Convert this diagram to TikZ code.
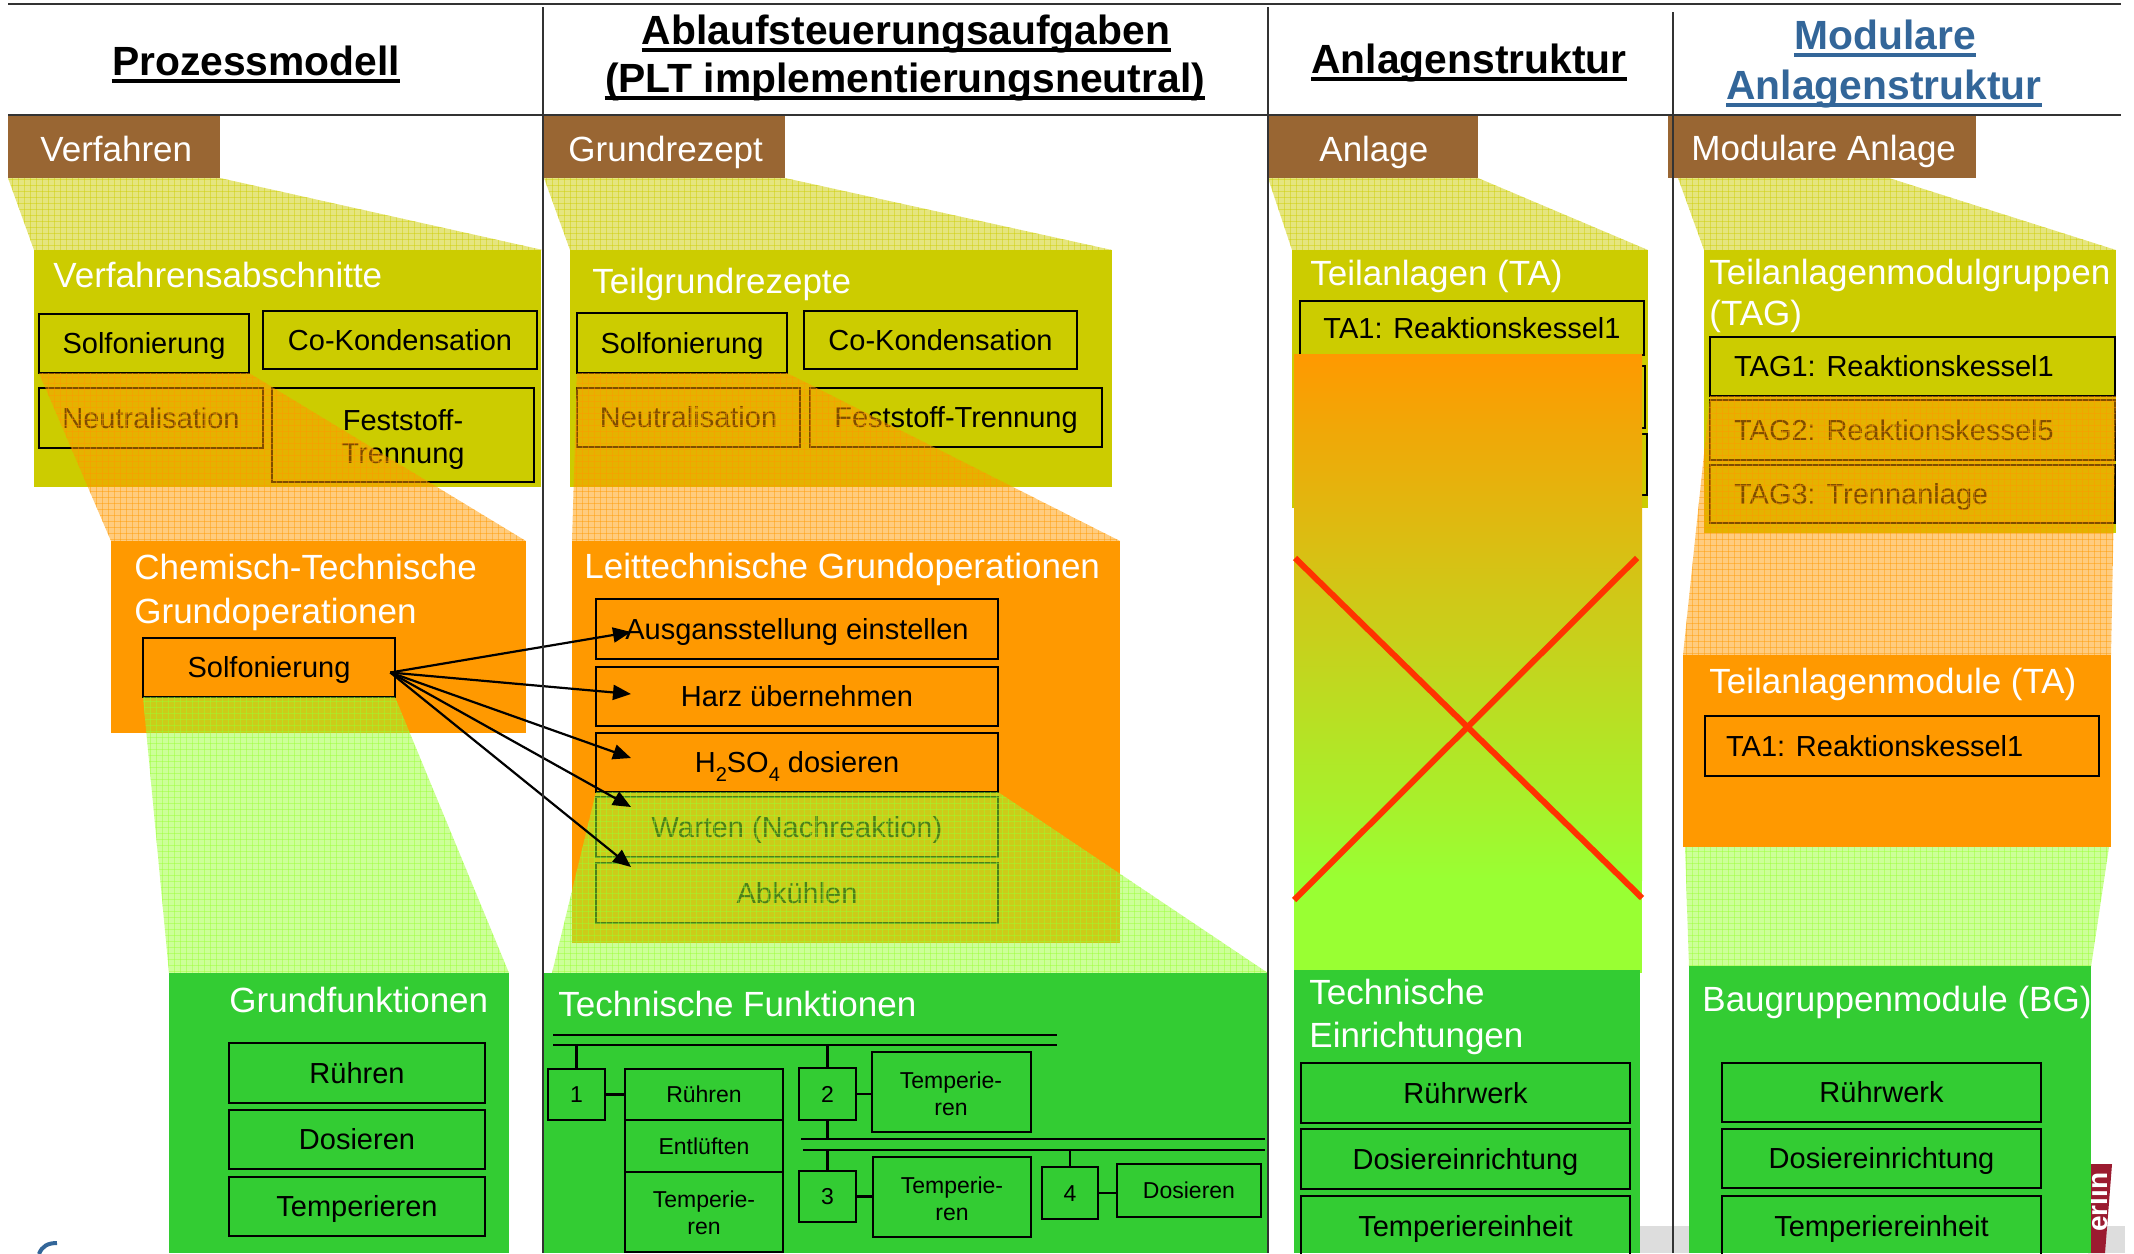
\documentclass[tikz,border=0pt]{standalone}
\usepackage{fontspec}
\setmainfont{Liberation Sans}
\usetikzlibrary{arrows.meta,patterns}
\definecolor{brn}{HTML}{996633}
\definecolor{ylw}{HTML}{CCCC00}
\definecolor{org}{HTML}{FF9900}
\definecolor{grn}{HTML}{33CC33}
\definecolor{lgr}{HTML}{99FF33}
\definecolor{redx}{HTML}{FF3300}
\definecolor{hblue}{HTML}{336699}
\definecolor{tabred}{HTML}{9B1B30}
\definecolor{gband}{HTML}{DDDDDD}
\definecolor{rulec}{HTML}{333333}
\newcommand\hatchfill[2]{%
  \fill[#1,opacity=.5] #2;
  \fill[pattern=grid,pattern color=#1,opacity=.45] #2;}
\begin{document}
\begin{tikzpicture}[x=0.5pt,y=-0.5pt,
  rect/.style n args={4}{minimum width={(#3-#1)*0.5pt},minimum height={(#4-#2)*0.5pt},at={({(#1+#3)/2},{(#2+#4)/2})}},
  hdr/.style={font=\fontsize{20.4}{24}\selectfont\bfseries,inner sep=0pt,anchor=base},
  ttl/.style={font=\fontsize{17.5}{21}\selectfont,text=white,inner sep=0pt,anchor=base west},
  area/.style={inner sep=0pt,outer sep=0pt},
  sub/.style={draw=black,line width=1.3pt,inner sep=0pt,font=\fontsize{14.5}{17}\selectfont,text height=10.4pt,text depth=0pt},
  subt/.style={font=\fontsize{14.5}{17}\selectfont,inner sep=0pt,text height=10.4pt,text depth=0pt},
  sfcbox/.style={draw=black,line width=1.1pt,inner sep=0pt,font=\fontsize{11.5}{14}\selectfont,text height=8.2pt,text depth=0pt},
  sfct/.style={font=\fontsize{11.5}{14}\selectfont,inner sep=0pt,anchor=base},
  syncbar/.style={line width=1.1pt},
  conn/.style={line width=1.1pt},
  arr/.style={line width=1.1pt,-{Triangle[length=9pt,width=7.5pt]}},
  ulin/.style={line width=2.2pt},
  divider/.style={line width=1pt,draw=rulec},
  hrule/.style={line width=1.4pt,draw=rulec},
]
\useasboundingbox (0,0) rectangle (2134,1253);
% background fragments
\fill[gband] (1640,1226) rectangle (2125,1253);
\fill[tabred] (2088,1164) -- (2112,1164) -- (2105,1253) -- (2088,1253) -- cycle;
\node[rotate=90,anchor=base west,font=\fontsize{14}{14}\selectfont\bfseries,text=white,inner sep=0pt] (logo) at (2107,1232) {erlin};
\draw[hblue,line width=2pt] (39,1254) .. controls (42,1246) and (48,1243) .. (57,1243);
% header
\draw[hrule] (8,4) -- (2121,4);
\draw[hrule] (8,115) -- (2121,115);
\node[hdr] (h1) at (256,75) {Prozessmodell};
\node[hdr] (h2a) at (906,44) {Ablaufsteuerungsaufgaben};
\node[hdr] (h2b) at (905,92) {(PLT implementierungsneutral)};
\node[hdr] (h3) at (1469,73) {Anlagenstruktur};
\node[hdr,text=hblue] (h4a) at (1885,49) {Modulare};
\node[hdr,text=hblue] (h4b) at (1884,99) {Anlagenstruktur};
\foreach \h in {h1,h2a,h2b,h3}
  \draw[ulin] ([yshift=-3pt]\h.base west) -- ([yshift=-3pt]\h.base east);
\foreach \h in {h4a,h4b}
  \draw[ulin,hblue] ([yshift=-3pt]\h.base west) -- ([yshift=-3pt]\h.base east);
% ---------------- column 1
\node[area,fill=brn,rect={8}{116}{220}{178}] (verf) {};
\node[ttl] (verft) at (40,161) {Verfahren};
\hatchfill{ylw}{(8,178) -- (220,178) -- (543,250) -- (34,250) -- cycle}
\node[area,fill=ylw,rect={34}{250}{541}{487}] (vab) {};
\node[ttl] (vabt) at (53,287) {Verfahrensabschnitte};
\node[sub,rect={39}{314}{249}{373}] (vab1) {Solfonierung};
\node[sub,rect={263}{311}{537}{369}] (vab2) {Co-Kondensation};
\node[sub,rect={39}{388}{263}{448}] (vab3) {Neutralisation};
\node[sub,rect={272}{388}{534}{482}] (vab4) {};
\node[subt,anchor=base] (vab4a) at (403,430) {Feststoff-};
\node[subt,anchor=base] (vab4b) at (403,463) {Trennung};
\hatchfill{org}{(39,373) -- (249,373) -- (526,541) -- (111,541) -- cycle}
\node[area,fill=org,rect={111}{541}{526}{733}] (cto) {};
\node[ttl] (ctot1) at (134,579) {Chemisch-Technische};
\node[ttl] (ctot2) at (134,623) {Grundoperationen};
\node[sub,rect={143}{638}{395}{697}] (cto1) {Solfonierung};
\hatchfill{lgr}{(143,697) -- (395,697) -- (509,973) -- (169,973) -- cycle}
\node[area,fill=grn,rect={169}{973}{509}{1253}] (gf) {};
\node[ttl] (gft) at (229,1012) {Grundfunktionen};
\node[sub,rect={229}{1043}{485}{1103}] (gf1) {Rühren};
\node[sub,rect={229}{1110}{485}{1169}] (gf2) {Dosieren};
\node[sub,rect={229}{1177}{485}{1236}] (gf3) {Temperieren};
% ---------------- column 2
\node[area,fill=brn,rect={544}{116}{785}{178}] (grz) {};
\node[ttl] (grzt) at (568,161) {Grundrezept};
\hatchfill{ylw}{(544,178) -- (785,178) -- (1112,250) -- (570,250) -- cycle}
\node[area,fill=ylw,rect={570}{250}{1112}{487}] (tgr) {};
\node[ttl] (tgrt) at (592,293) {Teilgrundrezepte};
\node[sub,rect={577}{313}{787}{373}] (tgr1) {Solfonierung};
\node[sub,rect={804}{311}{1077}{369}] (tgr2) {Co-Kondensation};
\node[sub,rect={577}{388}{800}{447}] (tgr3) {Neutralisation};
\node[sub,rect={810}{388}{1102}{447}] (tgr4) {Feststoff-Trennung};
\hatchfill{org}{(577,373) -- (787,373) -- (1120,541) -- (572,541) -- cycle}
\node[area,fill=org,rect={572}{541}{1120}{943}] (lgo) {};
\node[ttl] (lgot) at (584,578) {Leittechnische Grundoperationen};
\node[sub,rect={596}{599}{998}{659}] (lgo1) {Ausgansstellung einstellen};
\node[sub,rect={596}{667}{998}{726}] (lgo2) {Harz übernehmen};
\node[sub,rect={596}{733}{998}{792}] (lgo3) {H\raisebox{-4.5pt}{\fontsize{10}{10}\selectfont 2}SO\raisebox{-4.5pt}{\fontsize{10}{10}\selectfont 4} dosieren};
\node[sub,rect={596}{797}{998}{857}] (lgo4) {Warten (Nachreaktion)};
\node[sub,rect={596}{863}{998}{923}] (lgo5) {Abkühlen};
\hatchfill{lgr}{(596,792) -- (998,792) -- (1268,973) -- (552,973) -- cycle}
\node[area,fill=grn,rect={544}{973}{1268}{1253}] (tf) {};
\node[ttl] (tft) at (558,1016) {Technische Funktionen};
% SFC
\coordinate (b1) at (553,1045);
\coordinate (b1t) at (553,1035);
\coordinate (b2t) at (801,1139);
\coordinate (b2b) at (803,1150);
\draw[syncbar] (b1t) -- (1057,1035);
\draw[syncbar] (b1) -- (1057,1045);
\draw[syncbar] (b2t) -- (1265,1139);
\draw[syncbar] (b2b) -- (1265,1150);
\node[sfcbox,rect={548}{1069}{605}{1120}] (st1) {1};
\node[sfcbox,rect={625}{1069}{783}{1120}] (ac1) {Rühren};
\node[sfcbox,rect={625}{1120}{783}{1172}] (ac1b) {Entlüften};
\node[sfcbox,rect={625}{1172}{783}{1252}] (ac1c) {};
\node[sfct] (ac1c1) at (704,1207) {Temperie-};
\node[sfct] (ac1c2) at (704,1234) {ren};
\node[sfcbox,rect={799}{1068}{856}{1120}] (st2) {2};
\node[sfcbox,rect={872}{1052}{1031}{1132}] (ac2) {};
\node[sfct] (ac2a) at (951,1088) {Temperie-};
\node[sfct] (ac2b) at (951,1115) {ren};
\node[sfcbox,rect={799}{1171}{856}{1222}] (st3) {3};
\node[sfcbox,rect={873}{1157}{1031}{1237}] (ac3) {};
\node[sfct] (ac3a) at (952,1193) {Temperie-};
\node[sfct] (ac3b) at (952,1220) {ren};
\node[sfcbox,rect={1042}{1167}{1098}{1219}] (st4) {4};
\node[sfcbox,rect={1117}{1164}{1261}{1217}] (ac4) {Dosieren};
\draw[conn] (st1.north) -- (st1.north |- b1);
\draw[conn] (st2.north) -- (st2.north |- b1);
\draw[conn] (st2.south) -- (st2.south |- b2t);
\draw[conn] (st3.north) -- (st3.north |- b2b);
\draw[conn] (st4.north) -- (st4.north |- b2b);
\draw[conn] (st1.east) -- (st1.east -| ac1.west);
\draw[conn] (st2.east) -- (st2.east -| ac2.west);
\draw[conn] (st3.east) -- (st3.east -| ac3.west);
\draw[conn] (st4.east) -- (st4.east -| ac4.west);
% ---------------- column 3
\node[area,fill=brn,rect={1268}{116}{1478}{178}] (anl) {};
\node[ttl] (anlt) at (1319,161) {Anlage};
\hatchfill{ylw}{(1268,178) -- (1478,178) -- (1648,250) -- (1292,250) -- cycle}
\node[area,fill=ylw,rect={1292}{250}{1648}{508}] (tan) {};
\node[ttl] (tant) at (1310,285) {Teilanlagen (TA)};
\node[sub,rect={1300}{301}{1644}{355}] (tan1) {TA1: Reaktionskessel1};
\node[sub,rect={1300}{366}{1645}{428}] (tan2) {};
\node[sub,rect={1300}{434}{1647}{495}] (tan3) {};
\shade[top color=org,bottom color=lgr] (1294,354) rectangle (1642,880);
\fill[lgr] (1294,879) rectangle (1642,973);
\node[area,fill=grn,rect={1294}{970}{1640}{1253}] (tei) {};
\node[ttl] (teit1) at (1309,1004) {Technische};
\node[ttl] (teit2) at (1309,1047) {Einrichtungen};
\node[sub,rect={1301}{1063}{1630}{1123}] (tei1) {Rührwerk};
\node[sub,rect={1301}{1129}{1630}{1189}] (tei2) {Dosiereinrichtung};
\node[sub,rect={1301}{1196}{1630}{1256}] (tei3) {Temperiereinheit};
\draw[redx,line width=3pt] (1295,558) -- (1642,898);
\draw[redx,line width=3pt] (1637,558) -- (1294,900);
% ---------------- column 4
\node[area,fill=brn,rect={1668}{116}{1976}{178}] (man) {};
\node[ttl] (mant) at (1691,160) {Modulare Anlage};
\hatchfill{ylw}{(1678,178) -- (1889,178) -- (2116,250) -- (1704,250) -- cycle}
\node[area,fill=ylw,rect={1704}{250}{2116}{533}] (tag) {};
\node[ttl] (tagt1) at (1709,284) {Teilanlagenmodulgruppen};
\node[ttl] (tagt2) at (1709,325) {(TAG)};
\node[sub,rect={1710}{337}{2115}{396}] (tag1) {};
\node[subt,anchor=west] (tag1t) at ([xshift=12.5pt]tag1.west) {TAG1: Reaktionskessel1};
\node[sub,rect={1710}{400}{2115}{460}] (tag2) {};
\node[subt,anchor=west] (tag2t) at ([xshift=12.5pt]tag2.west) {TAG2: Reaktionskessel5};
\node[sub,rect={1710}{465}{2115}{523}] (tag3) {};
\node[subt,anchor=west] (tag3t) at ([xshift=12.5pt]tag3.west) {TAG3: Trennanlage};
\hatchfill{org}{(1710,396) -- (2116,396) -- (2111,655) -- (1683,655) -- cycle}
\node[area,fill=org,rect={1683}{655}{2111}{847}] (tam) {};
\node[ttl] (tamt) at (1709,693) {Teilanlagenmodule (TA)};
\node[sub,rect={1705}{716}{2099}{776}] (tam1) {};
\node[subt,anchor=west] (tam1t) at ([xshift=11pt]tam1.west) {TA1: Reaktionskessel1};
\hatchfill{lgr}{(1685,847) -- (2109,847) -- (2091,967) -- (1689,967) -- cycle}
\node[area,fill=grn,rect={1689}{966}{2091}{1253}] (bgm) {};
\node[ttl] (bgmt) at (1702,1011) {Baugruppenmodule (BG)};
\node[sub,rect={1722}{1063}{2041}{1122}] (bgm1) {Rührwerk};
\node[sub,rect={1722}{1129}{2041}{1188}] (bgm2) {Dosiereinrichtung};
\node[sub,rect={1722}{1196}{2041}{1256}] (bgm3) {Temperiereinheit};
% ---------------- arrows
\coordinate (src) at ([xshift=-3pt,yshift=-2.5pt]cto1.east);
\coordinate (tp1) at (631,632);
\coordinate (tp2) at (631,694);
\coordinate (tp3) at (631,758);
\coordinate (tp4) at (631,807);
\coordinate (tp5) at (631,867);
\foreach \i in {1,...,5} \draw[arr] (src) -- (tp\i);
% ---------------- dividers
\draw[divider] (543,7) -- (543,1253);
\draw[divider] (1268,7) -- (1268,1253);
\draw[divider] (1673,12) -- (1673,1253);
\end{tikzpicture}
\end{document}
